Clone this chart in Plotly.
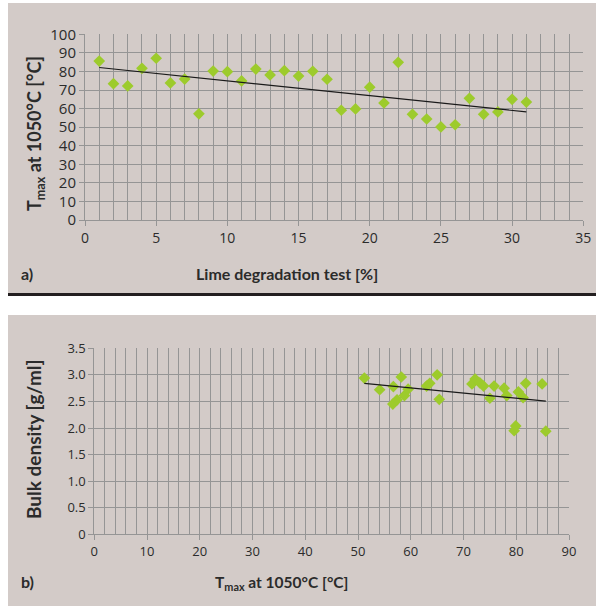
import numpy as np
import plotly.graph_objects as go

# Panel a) Lime degradation test vs Tmax
lime_deg = list(range(1, 32))
tmax_a = [85.6, 73.4, 72.2, 81.7, 87.1, 73.8, 75.9, 57.2, 80.2, 79.9,
          74.9, 81.3, 78.1, 80.4, 77.5, 80.1, 75.8, 59.1, 59.8, 71.5,
          63.0, 84.9, 56.9, 54.4, 50.1, 51.3, 65.5, 56.9, 58.2, 65.0, 63.5]

# Panel b) Tmax vs bulk density
tmax_b = [51.2, 54.1, 56.7, 58.2, 56.6, 57.4, 58.8, 59.5, 63.0, 63.6,
          65.0, 65.4, 71.6, 72.2, 73.1, 73.8, 75.0, 75.8, 77.7, 78.2,
          80.4, 81.3, 81.8, 84.9, 79.9, 79.6, 85.6]
bulk_density = [2.94, 2.72, 2.78, 2.96, 2.45, 2.53, 2.61, 2.73, 2.79, 2.84,
                3.00, 2.54, 2.83, 2.92, 2.85, 2.79, 2.56, 2.79, 2.75, 2.61,
                2.68, 2.57, 2.84, 2.83, 2.04, 1.95, 1.94]

xticks_a = [0, 5, 10, 15, 20, 25, 30, 35]
yticks_a = [0, 10, 20, 30, 40, 50, 60, 70, 80, 90, 100]
xticks_b = [0, 10, 20, 30, 40, 50, 60, 70, 80, 90]
yticks_b = [0, 0.5, 1.0, 1.5, 2.0, 2.5, 3.0, 3.5]
ytext_b = ["0", "0.5", "1.0", "1.5", "2.0", "2.5", "3.0", "3.5"]

W, H = 596, 606
GREEN = "#9dcb2c"
BG = "#d3cbc8"
GRID = "#959595"
TXT = "#2b2b2b"

def px(x):
    return x / W

def py(y):
    return 1 - y / H

# trendlines (least squares from data)
ka, ba = np.polyfit(lime_deg, tmax_a, 1)
kb, bb = np.polyfit(tmax_b, bulk_density, 1)
xa_line = [min(lime_deg), max(lime_deg)]
xb_line = [min(tmax_b), max(tmax_b)]

fig = go.Figure()
fig.add_trace(go.Scatter(x=lime_deg, y=tmax_a, mode="markers",
                         marker=dict(symbol="diamond", size=9, color=GREEN),
                         xaxis="x", yaxis="y", showlegend=False))
fig.add_trace(go.Scatter(x=xa_line, y=[ka * v + ba for v in xa_line], mode="lines",
                         line=dict(color="#1a1a1a", width=1.2),
                         xaxis="x", yaxis="y", showlegend=False))
fig.add_trace(go.Scatter(x=tmax_b, y=bulk_density, mode="markers",
                         marker=dict(symbol="diamond", size=9, color=GREEN),
                         xaxis="x2", yaxis="y2", showlegend=False))
fig.add_trace(go.Scatter(x=xb_line, y=[kb * v + bb for v in xb_line], mode="lines",
                         line=dict(color="#1a1a1a", width=1.2),
                         xaxis="x2", yaxis="y2", showlegend=False))

common = dict(showline=True, linecolor=GRID, linewidth=1, ticks="outside",
              ticklen=5, tickcolor=GRID, zeroline=False, showgrid=True,
              gridcolor=GRID, gridwidth=1, automargin=False)

fig.update_layout(
    width=W, height=H, margin=dict(l=0, r=0, t=0, b=0),
    paper_bgcolor="white", plot_bgcolor="white",
    xaxis=dict(domain=[px(85), px(583.3)], anchor="y", range=[0, 35],
               tickvals=xticks_a, tickfont=dict(family="Open Sans", size=14, color=TXT),
               minor=dict(dtick=1, tick0=0, showgrid=True, gridcolor=GRID, gridwidth=1),
               **common),
    yaxis=dict(domain=[py(220), py(34.3)], anchor="x", range=[0, 100],
               tickvals=yticks_a, tickfont=dict(family="Open Sans", size=15, color=TXT),
               **common),
    xaxis2=dict(domain=[px(94.3), px(569)], anchor="y2", range=[0, 90],
                tickvals=xticks_b, tickfont=dict(family="Open Sans", size=13, color=TXT),
                minor=dict(dtick=2, tick0=0, showgrid=True, gridcolor=GRID, gridwidth=1),
                **common),
    yaxis2=dict(domain=[py(534.3), py(348.3)], anchor="x2", range=[0, 3.5],
                tickvals=yticks_b, ticktext=ytext_b,
                tickfont=dict(family="Open Sans", size=13, color=TXT), **common),
)

shapes = [
    dict(type="rect", xref="paper", yref="paper", x0=px(8), x1=1, y0=py(293), y1=py(3),
         fillcolor=BG, line=dict(width=0), layer="below"),
    dict(type="rect", xref="paper", yref="paper", x0=px(8), x1=1, y0=py(296), y1=py(293),
         fillcolor="#231f20", line=dict(width=0), layer="below"),
    dict(type="rect", xref="paper", yref="paper", x0=px(8), x1=1, y0=0, y1=py(315),
         fillcolor=BG, line=dict(width=0), layer="below"),
]
fig.update_layout(shapes=shapes)

def tfont(size):
    return dict(family="Lato", size=size, color=TXT, weight="bold")

ann = [
    dict(text="Lime degradation test [%]", x=px(287), y=py(273), font=tfont(16)),
    dict(text="a)", x=px(27), y=py(273), font=tfont(16)),
    dict(text="T<sub>max</sub> at 1050°C [°C]", x=px(35), y=py(134), textangle=-90,
         font=tfont(18)),
    dict(text="T<sub>max</sub> at 1050°C [°C]", x=px(281), y=py(583), font=tfont(15.5)),
    dict(text="b)", x=px(27), y=py(581), font=tfont(16)),
    dict(text="Bulk density [g/ml]", x=px(33), y=py(440), textangle=-90, font=tfont(19)),
]
for a in ann:
    a.update(xref="paper", yref="paper", showarrow=False,
             xanchor="center", yanchor="middle")
fig.update_layout(annotations=ann)

fig.write_html("out.html", config={"displayModeBar": False},
               post_script="document.body.style.margin='0';document.body.style.overflow='hidden';")
